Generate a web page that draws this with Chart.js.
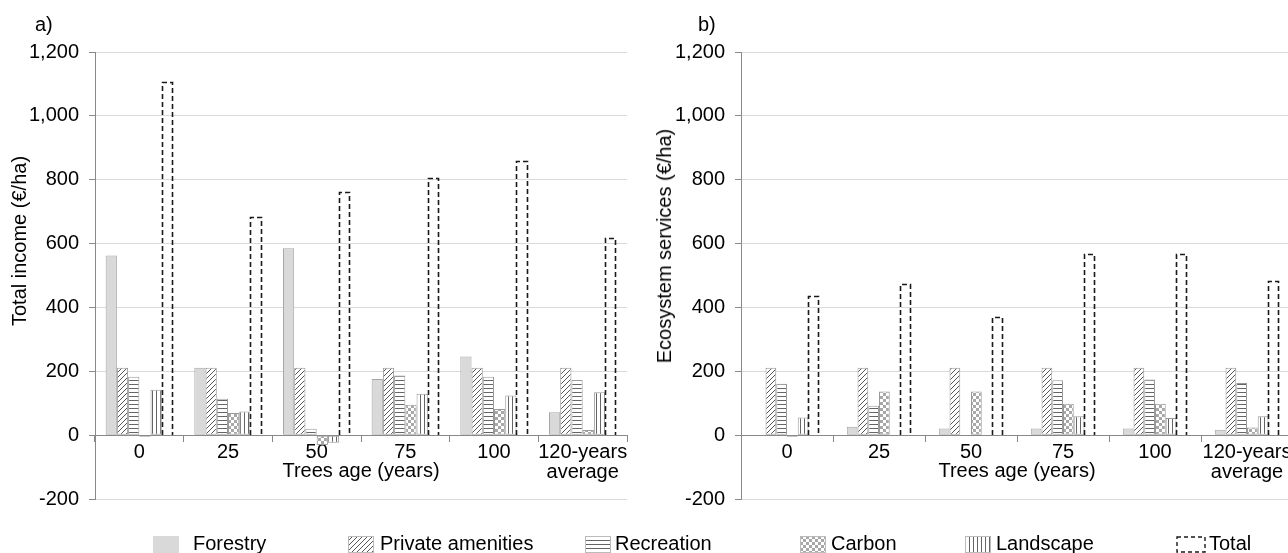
<!DOCTYPE html>
<html>
<head>
<meta charset="utf-8">
<script src="https://cdn.jsdelivr.net/npm/chart.js@4.4.0/dist/chart.umd.min.js"></script>
<style>
  html, body { margin: 0; padding: 0; background: #fff; overflow: hidden; width: 1288px; height: 553px; }
  body { position: relative; font-family: "Liberation Sans", Arial, sans-serif; color: #000; }
  #chartA { position: absolute; left: 0; top: 0; }
  #chartB { position: absolute; left: 640px; top: 0; }
  .panel { position: absolute; top: 14px; font-size: 20px; line-height: 20px; }
  .ytitle { position: absolute; font-size: 20px; line-height: 20px; white-space: nowrap;
            transform: translate(-50%, -50%) rotate(-90deg); }
  .sw { position: absolute; top: 536px; }
  .lt { position: absolute; top: 533px; font-size: 20px; line-height: 20px; white-space: nowrap; }
</style>
</head>
<body>
<canvas id="chartA" width="640" height="553"></canvas>
<canvas id="chartB" width="660" height="553"></canvas>
<div class="panel" style="left:35px">a)</div>
<div class="panel" style="left:698px">b)</div>
<div class="ytitle" style="left:19px; top:241px">Total income (€/ha)</div>
<div class="ytitle" style="left:664px; top:246px">Ecosystem services (€/ha)</div>
<div id="legend"></div>

<script>
//Data
const categories = ['0', '25', '50', '75', '100', ['120-years', 'average']];
const seriesNames = ['Forestry', 'Private amenities', 'Recreation', 'Carbon', 'Landscape', 'Total'];
const yTickValues = [-200, 0, 200, 400, 600, 800, 1000, 1200];

// a) total income
const incomeForestry = [563, 211, 585, 176, 246, 72];
const incomePrivate = [211, 211, 211, 211, 211, 211];
const incomeRecreation = [183, 114, 20, 187, 183, 173];
const incomeCarbon = [-5, 69, -31, 95, 82, 16];
const incomeLandscape = [142, 74, -24, 130, 124, 134];
const incomeTotal = [1105, 684, 760, 805, 859, 617];

// b) ecosystem services
const esForestry = [0, 26, 21, 21, 21, 17];
const esPrivate = [211, 211, 211, 211, 211, 211];
const esRecreation = [161, 92, 0, 172, 174, 163];
const esCarbon = [-5, 137, 137, 98, 98, 24];
const esLandscape = [55, 0, 0, 59, 54, 59];
const esTotal = [436, 474, 370, 566, 566, 483];

//Patterns
const makePattern = (kind) => {
  const c = document.createElement('canvas');
  const g = c.getContext('2d');
  if (kind === 'diag') {
    c.width = c.height = 5;
    g.fillStyle = '#fff'; g.fillRect(0, 0, 5, 5);
    g.strokeStyle = '#555'; g.lineWidth = 1;
    g.beginPath();
    g.moveTo(0, 5); g.lineTo(5, 0);
    g.moveTo(-1, 1); g.lineTo(1, -1);
    g.moveTo(4, 6); g.lineTo(6, 4);
    g.stroke();
  } else if (kind === 'hline') {
    c.width = 4; c.height = 4;
    g.fillStyle = '#fff'; g.fillRect(0, 0, 4, 4);
    g.fillStyle = '#666'; g.fillRect(0, 0, 4, 1);
  } else if (kind === 'check') {
    c.width = c.height = 6;
    g.fillStyle = '#fff'; g.fillRect(0, 0, 6, 6);
    g.fillStyle = '#a8a8a8'; g.fillRect(0, 0, 3, 3); g.fillRect(3, 3, 3, 3);
  } else if (kind === 'vline') {
    c.width = 4; c.height = 4;
    g.fillStyle = '#fff'; g.fillRect(0, 0, 4, 4);
    g.fillStyle = '#666'; g.fillRect(0, 0, 1, 4);
  }
  return g.createPattern(c, 'repeat');
};

const fills = ['#d9d9d9', makePattern('diag'), makePattern('hline'), makePattern('check'), makePattern('vline'), 'rgba(0,0,0,0)'];
const borders = ['#a6a6a6', '#999', '#999', '#999', '#999', 'rgba(0,0,0,0)'];

// Excel style dashed outline for the Total bars
const dashedTotal = {
  id: 'dashedTotal',
  afterDatasetsDraw(chart) {
    const meta = chart.getDatasetMeta(5);
    const ctx = chart.ctx;
    ctx.save();
    ctx.strokeStyle = '#1a1a1a';
    ctx.lineWidth = 1.6;
    ctx.setLineDash([5, 3]);
    meta.data.forEach(bar => {
      const p = bar.getProps(['x', 'y', 'base', 'width'], true);
      const l = Math.round(p.x - p.width / 2) + 0.5;
      const r = Math.round(p.x + p.width / 2) - 0.5;
      const t = Math.round(p.y) + 0.5;
      const b = Math.round(p.base);
      ctx.beginPath();
      ctx.moveTo(l, b); ctx.lineTo(l, t); ctx.lineTo(r, t); ctx.lineTo(r, b);
      ctx.stroke();
    });
    ctx.restore();
  }
};

const axisGray = '#898989';
const font20 = { family: '"Liberation Sans", Arial, sans-serif', size: 20 };

const buildChart = (canvasId, series, axisWidth, padRight, catPct) => {
  return new Chart(document.getElementById(canvasId), {
    type: 'bar',
    data: {
      labels: categories,
      datasets: series.map((values, i) => ({
        label: seriesNames[i],
        data: values,
        backgroundColor: fills[i],
        borderColor: borders[i],
        borderWidth: i === 5 ? 0 : 1,
        borderSkipped: false,
        categoryPercentage: catPct,
        barPercentage: 1
      }))
    },
    options: {
      responsive: false,
      animation: false,
      layout: { padding: { top: 52, bottom: 54, left: 0, right: padRight } },
      plugins: { legend: { display: false }, tooltip: { enabled: false } },
      scales: {
        y: {
          min: -200,
          max: 1200,
          afterBuildTicks: (scale) => { scale.ticks = yTickValues.map(v => ({ value: v })); },
          afterFit: (scale) => { scale.width = axisWidth; },
          grid: {
            color: (c) => (c.tick && c.tick.value === 0 ? axisGray : '#d9d9d9'),
            tickColor: axisGray,
            tickLength: 6
          },
          border: { color: axisGray },
          ticks: {
            color: '#000',
            font: font20,
            padding: 10,
            callback: (v) => v.toLocaleString('en-US')
          }
        },
        x: {
          position: { y: 0 },
          grid: { drawOnChartArea: false, drawTicks: true, tickLength: 6, tickColor: axisGray, offset: true },
          border: { color: axisGray },
          ticks: {
            color: '#000',
            font: Object.assign({ lineHeight: 1.0 }, font20),
            padding: 1,
            maxRotation: 0,
            autoSkip: false
          },
          title: {
            display: true,
            text: 'Trees age (years)',
            color: '#000',
            font: Object.assign({ lineHeight: 1.0 }, font20),
            padding: { top: -22, bottom: 0 }
          }
        }
      }
    },
    plugins: [dashedTotal]
  });
};

buildChart('chartA', [incomeForestry, incomePrivate, incomeRecreation, incomeCarbon, incomeLandscape, incomeTotal], 95, 13, 0.76);
buildChart('chartB', [esForestry, esPrivate, esRecreation, esCarbon, esLandscape, esTotal], 101, 7, 0.70);

//Legend
const legendSpots = [[153, 193], [348, 380], [585, 615], [800, 831], [965, 996], [1176, 1209]];
const legend = document.getElementById('legend');
seriesNames.forEach((name, i) => {
  const sw = document.createElement('canvas');
  sw.className = 'sw';
  sw.width = i === 5 ? 30 : 26;
  sw.height = 17;
  sw.style.left = legendSpots[i][0] + 'px';
  const g = sw.getContext('2d');
  if (i === 5) {
    g.strokeStyle = '#1a1a1a';
    g.lineWidth = 1.4;
    g.setLineDash([4, 3]);
    g.strokeRect(1, 1, sw.width - 2, sw.height - 2);
  } else {
    g.fillStyle = fills[i];
    g.fillRect(0, 0, sw.width, sw.height);
    if (i !== 0) {
      g.strokeStyle = '#bbb';
      g.strokeRect(0.5, 0.5, sw.width - 1, sw.height - 1);
    }
  }
  legend.appendChild(sw);
  const t = document.createElement('span');
  t.className = 'lt';
  t.style.left = legendSpots[i][1] + 'px';
  t.textContent = name;
  legend.appendChild(t);
});
</script>
</body>
</html>
